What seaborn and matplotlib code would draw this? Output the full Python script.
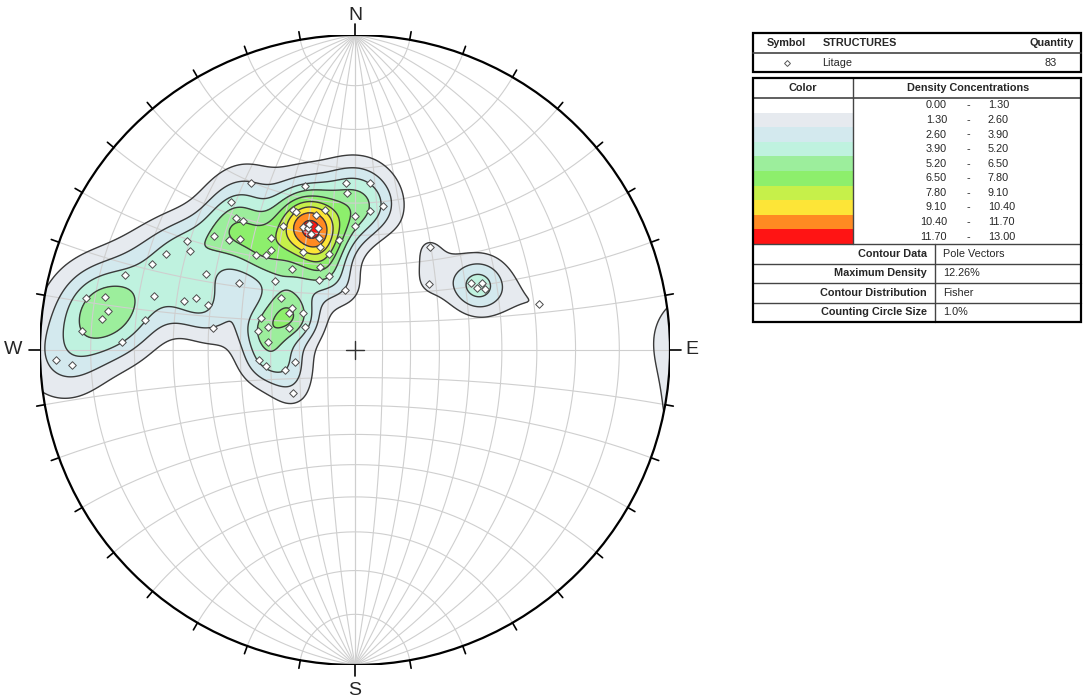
import numpy as np
import matplotlib
matplotlib.use('Agg')
import matplotlib.pyplot as plt
import seaborn as sns
from matplotlib.patches import Circle, Rectangle

sns.set_style('white')
plt.rcParams['font.family'] = ['Liberation Sans', 'DejaVu Sans']

#%% Data: poles (trend / plunge, degrees), read off the stereonet
trend = [328, 343, 357, 5, 357, 11, 6, 0, 0, 320,
         318, 319, 336, 337, 344, 348, 330, 337, 339, 340,
         343, 339, 342, 352, 341, 345, 332, 337, 322, 309,
         311, 314, 323, 303, 301, 297, 314, 317, 320, 293,
         288, 297, 300, 311, 333, 341, 351, 281, 282, 279,
         277, 274, 285, 278, 272, 268, 267, 286, 288, 287,
         279, 305, 304, 299, 305, 289, 285, 281, 288, 295,
         275, 264, 260, 259, 254, 235, 36, 48, 60, 63,
         62, 65, 76]
plunge = [26, 33, 34, 34, 37, 40, 42, 44, 47, 27,
          31, 33, 38, 39, 42, 41, 41, 44, 45, 44,
          46, 47, 49, 51, 52, 55, 51, 58, 54, 30,
          34, 36, 42, 25, 27, 22, 43, 45, 45, 20,
          15, 34, 44, 53, 62, 62, 68, 8, 12, 13,
          12, 8, 23, 22, 17, 3, 6, 31, 34, 38,
          41, 58, 63, 63, 67, 55, 58, 55, 65, 70,
          59, 56, 58, 68, 64, 63, 46, 55, 44, 43,
          41, 41, 28]

density_levels = [0.00, 1.30, 2.60, 3.90, 5.20, 6.50, 7.80, 9.10, 10.40, 11.70, 13.00]
max_density = 12.26
set_name = 'Litage'
info_labels = ['Contour Data', 'Maximum Density', 'Contour Distribution', 'Counting Circle Size']
info_values = ['Pole Vectors', '12.26%', 'Fisher', '1.0%']

density_colors = ['#ffffff', '#e6eaef', '#d3e9ee', '#bff2df', '#9cee9c',
                  '#8def6c', '#c6f04a', '#fde537', '#ff8a22', '#ff1414']
kappa = 90.0


def to_xy(tr, pl):
    t = np.radians(tr)
    p = np.radians(pl)
    vE, vN, vD = np.cos(p) * np.sin(t), np.cos(p) * np.cos(t), np.sin(p)
    return vE / (1 + vD), vN / (1 + vD)


#%% Fisher density on the lower hemisphere (equal angle)
t = np.radians(trend)
p = np.radians(plunge)
pE, pN, pD = np.cos(p) * np.sin(t), np.cos(p) * np.cos(t), np.sin(p)

g = np.linspace(-1.03, 1.03, 461)
X, Y = np.meshgrid(g, g)
R2 = X**2 + Y**2
gE, gN, gD = 2 * X / (1 + R2), 2 * Y / (1 + R2), (1 - R2) / (1 + R2)
dens = np.zeros_like(X)
for i in range(len(trend)):
    c = np.abs(gE * pE[i] + gN * pN[i] + gD * pD[i])
    dens += np.exp(kappa * (c - 1))
dens = 100.0 * dens / len(trend)
dens *= max_density / dens[R2 <= 1].max()

#%% Figure
fig = plt.figure(figsize=(10.84, 6.98), dpi=100)

# legend tables, pixel coordinates
axt = fig.add_axes([0, 0, 1, 1])
axt.set_xlim(0, 1084)
axt.set_ylim(698, 0)
axt.axis('off')

fs = 7.8
L, Rt = 753, 1081
axt.add_patch(Rectangle((L, 33), Rt - L, 39, fill=False, lw=1.6, ec='black'))
axt.plot([L, Rt], [53, 53], color='#444444', lw=1.2)
axt.text(786, 43, 'Symbol', ha='center', va='center', fontsize=fs, fontweight='bold')
axt.text(823, 43, 'STRUCTURES', ha='left', va='center', fontsize=fs, fontweight='bold')
axt.text(1074, 43, 'Quantity', ha='right', va='center', fontsize=fs, fontweight='bold')
axt.plot([787], [62.5], marker='D', ms=3, mfc='white', mec='#555555', mew=0.7)
axt.text(822, 62.5, set_name, ha='left', va='center', fontsize=fs)
axt.text(1051, 62.5, str(len(trend)), ha='center', va='center', fontsize=fs)

top2, head2, rows_end, bot2 = 78, 98, 244, 322
axt.add_patch(Rectangle((L, top2), Rt - L, bot2 - top2, fill=False, lw=1.6, ec='black', zorder=5))
axt.plot([L, Rt], [head2, head2], color='#444444', lw=1.2)
axt.plot([853, 853], [top2, rows_end], color='#444444', lw=1.0)
axt.text(803, 88, 'Color', ha='center', va='center', fontsize=fs, fontweight='bold')
axt.text(968, 88, 'Density Concentrations', ha='center', va='center', fontsize=fs, fontweight='bold')
rh = (rows_end - head2) / (len(density_levels) - 1)
for k in range(len(density_levels) - 1):
    y0 = head2 + k * rh
    axt.add_patch(Rectangle((L, y0), 853 - L, rh, color=density_colors[k], lw=0))
    yc = y0 + rh / 2
    axt.text(947, yc, f'{density_levels[k]:.2f}', ha='right', va='center', fontsize=fs)
    axt.text(968, yc, '-', ha='center', va='center', fontsize=fs)
    axt.text(988, yc, f'{density_levels[k + 1]:.2f}', ha='left', va='center', fontsize=fs)
row_y = [244, 263.5, 283, 302.5, 322]
for k in range(len(info_labels)):
    axt.plot([L, Rt], [row_y[k], row_y[k]], color='#444444', lw=1.0)
    yc = (row_y[k] + row_y[k + 1]) / 2
    axt.text(927, yc, info_labels[k], ha='right', va='center', fontsize=fs, fontweight='bold')
    axt.text(943, yc, info_values[k], ha='left', va='center', fontsize=fs)
axt.plot([935, 935], [244, 322], color='#444444', lw=1.0)

# stereonet
ax = fig.add_axes([40 / 1084, 33 / 698, 630 / 1084, 630 / 698])
ax.set_xlim(-1, 1)
ax.set_ylim(-1, 1)
ax.axis('off')

clip = Circle((0, 0), 1, transform=ax.transData)
cf = ax.contourf(X, Y, dens, levels=density_levels, colors=density_colors, zorder=1)
cf.set_clip_path(clip)

# net: great circles (N-S strike) and small circles about N-S axis
phi = np.linspace(0, np.pi, 241)
for dip in range(10, 100, 10):
    for side in (1, -1):
        d = np.radians(dip)
        vE = np.sin(phi) * side * np.cos(d)
        vN = np.cos(phi)
        vD = np.sin(phi) * np.sin(d)
        ax.plot(vE / (1 + vD), vN / (1 + vD), color='#cfcfcf', lw=0.8, zorder=2)
for a in range(10, 180, 10):
    ar = np.radians(a)
    vE = np.sin(ar) * np.cos(phi)
    vN = np.cos(ar) * np.ones_like(phi)
    vD = np.sin(ar) * np.sin(phi)
    ax.plot(vE / (1 + vD), vN / (1 + vD), color='#cfcfcf', lw=0.8, zorder=2)

cl = ax.contour(X, Y, dens, levels=density_levels[1:-1], colors='#3a3a3a', linewidths=1.0, zorder=3)
cl.set_clip_path(clip)

px, py = to_xy(np.array(trend), np.array(plunge))
sns.scatterplot(x=px, y=py, marker='D', s=15, color='white', edgecolor='#4a4a4a',
                linewidth=0.7, ax=ax, zorder=5, legend=False)

ax.add_patch(Circle((0, 0), 1, fill=False, lw=1.6, ec='black', zorder=6))
ax.plot([-0.03, 0.03], [0, 0], color='#333333', lw=1.0, zorder=6)
ax.plot([0, 0], [-0.03, 0.03], color='#333333', lw=1.0, zorder=6)
for az in range(0, 360, 10):
    a = np.radians(az)
    ln = 0.035 if az % 90 == 0 else 0.026
    ax.plot([np.sin(a), (1 + ln) * np.sin(a)], [np.cos(a), (1 + ln) * np.cos(a)],
            color='black', lw=1.2, zorder=6, clip_on=False)
for lab, x, y in [('N', 0, 1.062), ('S', 0, -1.08), ('W', -1.085, 0), ('E', 1.07, 0)]:
    ax.text(x, y, lab, ha='center', va='center', fontsize=14, clip_on=False)

fig.savefig('out.png', dpi=100)
